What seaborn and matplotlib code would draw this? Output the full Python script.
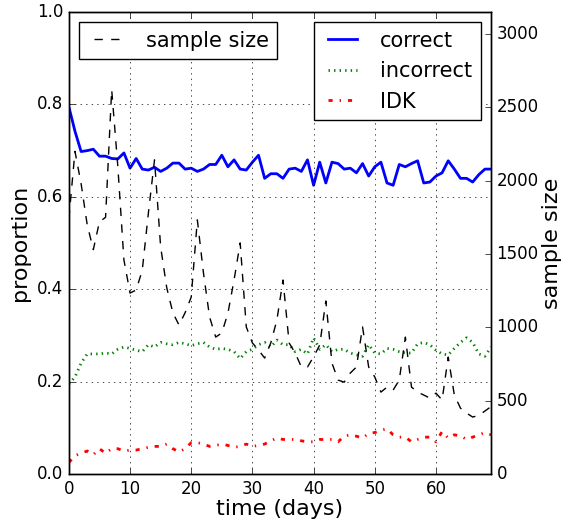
import numpy as np
import pandas as pd
import seaborn as sns
import matplotlib
matplotlib.use('Agg')
import matplotlib.pyplot as plt

# values
days = list(range(70))
correct = [0.795, 0.742, 0.698, 0.70, 0.703, 0.688, 0.688, 0.683, 0.682, 0.695,
           0.662, 0.683, 0.660, 0.658, 0.664, 0.655, 0.662, 0.673, 0.673, 0.660,
           0.662, 0.655, 0.660, 0.670, 0.670, 0.690, 0.665, 0.680, 0.660, 0.658,
           0.675, 0.690, 0.640, 0.650, 0.650, 0.640, 0.660, 0.662, 0.655, 0.680,
           0.625, 0.675, 0.630, 0.675, 0.672, 0.660, 0.662, 0.652, 0.672, 0.645,
           0.665, 0.675, 0.630, 0.625, 0.670, 0.665, 0.672, 0.678, 0.630, 0.632,
           0.645, 0.652, 0.678, 0.660, 0.640, 0.640, 0.632, 0.648, 0.660, 0.660]
incorrect = [0.195, 0.21, 0.24, 0.26, 0.26, 0.26, 0.262, 0.26, 0.27, 0.275,
             0.272, 0.268, 0.265, 0.28, 0.275, 0.285, 0.282, 0.28, 0.285, 0.282,
             0.278, 0.282, 0.285, 0.275, 0.27, 0.272, 0.27, 0.265, 0.25, 0.265,
             0.27, 0.28, 0.285, 0.275, 0.29, 0.28, 0.28, 0.265, 0.27, 0.26,
             0.295, 0.27, 0.28, 0.265, 0.27, 0.27, 0.262, 0.258, 0.255, 0.28,
             0.262, 0.26, 0.272, 0.27, 0.265, 0.262, 0.262, 0.282, 0.285, 0.28,
             0.268, 0.26, 0.258, 0.272, 0.285, 0.295, 0.285, 0.26, 0.255, 0.275]
idk = [0.025, 0.04, 0.045, 0.05, 0.042, 0.055, 0.045, 0.055, 0.055, 0.05,
       0.052, 0.052, 0.055, 0.058, 0.06, 0.06, 0.065, 0.055, 0.048, 0.055,
       0.068, 0.068, 0.065, 0.06, 0.062, 0.065, 0.062, 0.058, 0.06, 0.065,
       0.06, 0.062, 0.065, 0.072, 0.078, 0.075, 0.075, 0.075, 0.072, 0.07,
       0.07, 0.075, 0.075, 0.075, 0.07, 0.082, 0.085, 0.082, 0.078, 0.088,
       0.09, 0.095, 0.098, 0.085, 0.08, 0.08, 0.07, 0.075, 0.08, 0.08,
       0.07, 0.092, 0.078, 0.085, 0.083, 0.075, 0.08, 0.085, 0.09, 0.085]
sample_size = [1740, 2200, 1980, 1700, 1530, 1720, 1750, 2620, 2100, 1460,
               1234, 1255, 1390, 1780, 2142, 1550, 1270, 1100, 1016, 1100,
               1207, 1733, 1371, 1071, 934, 962, 1098, 1323, 1576, 1003,
               894, 846, 791, 894, 1050, 1323, 894, 825, 730, 730,
               800, 880, 1180, 757, 641, 627, 689, 730, 1003, 730,
               662, 559, 593, 573, 641, 934, 593, 559, 539, 518,
               552, 505, 798, 539, 450, 416, 389, 400, 430, 460]

df = pd.DataFrame({'day': days, 'correct': correct, 'incorrect': incorrect,
                   'IDK': idk, 'sample size': sample_size})

plt.style.use('classic')
plt.rcParams['figure.facecolor'] = 'white'
plt.rcParams['savefig.facecolor'] = 'white'

fig = plt.figure(figsize=(5.69, 5.21), dpi=100)
ax = fig.add_axes([0.121, 0.090, 0.742, 0.887])

sns.lineplot(data=df, x='day', y='correct', ax=ax, color='b', lw=2, label='correct')
sns.lineplot(data=df, x='day', y='incorrect', ax=ax, color='g', lw=2, ls=':', label='incorrect')
sns.lineplot(data=df, x='day', y='IDK', ax=ax, color='r', lw=2, ls='-.', label='IDK')
ax.set_xlim(0, 69)
ax.set_ylim(0, 1.0)
ax.set_yticks(np.arange(0, 1.01, 0.2))
ax.grid(True)
ax.set_xlabel('time (days)', fontsize=16, labelpad=1)
ax.set_ylabel('proportion', fontsize=16)
ax.legend(loc='upper right', fontsize=15)

ax2 = ax.twinx()
sns.lineplot(data=df, x='day', y='sample size', ax=ax2, color='k', lw=1, ls='--', label='sample size')
ax2.set_ylim(0, 3150)
ax2.set_yticks(range(0, 3001, 500))
ax2.set_xlim(0, 69)
ax2.set_ylabel('sample size', fontsize=16, labelpad=2)
ax2.legend(loc='upper left', fontsize=15)

fig.savefig('out.png', dpi=100)
